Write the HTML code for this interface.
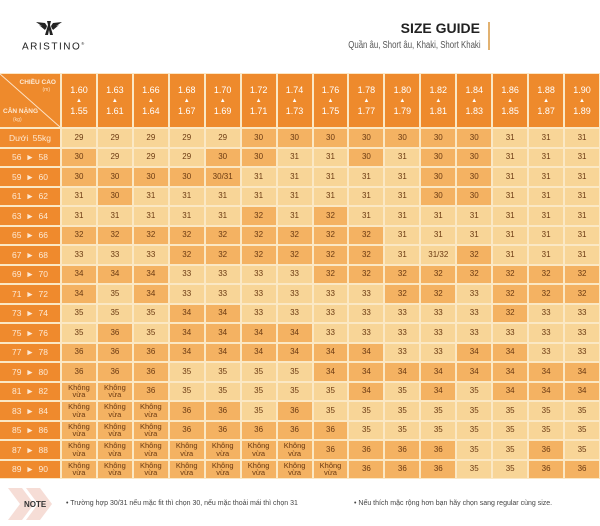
<!DOCTYPE html>
<html><head><meta charset="utf-8"><style>
*{margin:0;padding:0;box-sizing:border-box}
body{width:600px;height:526px;background:#fff;position:relative;overflow:hidden;font-family:"Liberation Sans","Noto Sans CJK SC",sans-serif}
.grid{position:absolute;left:0;top:74px;width:600px;height:405px;display:grid;grid-template-columns:60px repeat(15,1fr);grid-template-rows:53px repeat(18,1fr);gap:2px;background:#fbe8c4;padding:0 1px 1px 0}
.grid div{display:flex;align-items:center;justify-content:center;font-size:8px;color:#6b3a12;text-align:center;line-height:1}
.h{background:#ee8a2c;color:#fff!important;flex-direction:column;font-size:9px!important}
.h span{font-size:6px;margin:3px 0}
.r{background:#ef8a2d;color:#fde9d4!important;font-size:8.5px!important;word-spacing:2px}
.d{background:#f4b262}
.l{background:#f8d597}
.k{font-size:7.5px!important;flex-direction:column}
.corner{background:#ee8a2c;position:relative;display:block!important}
</style></head><body>
<svg style="position:absolute;left:36px;top:20px" width="26" height="16" viewBox="0 0 26 16"><path d="M0 2 L9 3 L11 6 L10 9 Z M26 2 L17 3 L15 6 L16 9 Z M3 5 L10 8 L9 10 Z M23 5 L16 8 L17 10 Z" fill="#222"/><path d="M11 1 L15 1 L14 5 L17 15 L14 15 L13 10 L12 15 L9 15 L12 5 Z" fill="#222"/></svg>
<div style="position:absolute;left:22px;top:41px;font-size:10px;letter-spacing:1.5px;color:#222">ARISTINO<sup style="font-size:4px">®</sup></div>
<div style="position:absolute;right:120px;top:20px;font-size:14px;font-weight:bold;color:#222">SIZE GUIDE</div>
<div style="position:absolute;right:119px;top:40px;font-size:10px;color:#555;transform:scaleX(0.78);transform-origin:right;white-space:nowrap">Quần âu, Short âu, Khaki, Short Khaki</div>
<div style="position:absolute;left:488px;top:22px;width:2px;height:28px;background:#e2b271"></div>
<div style="position:absolute;left:0;top:73px;width:600px;height:1px;background:#fde7c4"></div>
<div class="grid">
<div class="corner"><svg style="position:absolute;left:0;top:0" width="60" height="53"><line x1="0" y1="0" x2="60" y2="53" stroke="#fde4c8" stroke-width="1"/></svg>
<div style="position:absolute;right:4px;top:6px;font-size:6.5px;font-weight:bold;color:#fde9d4;display:block">CHIỀU CAO</div>
<div style="position:absolute;right:10px;top:14px;font-size:5px;color:#fde0c0;display:block">(m)</div>
<div style="position:absolute;left:3px;top:35px;font-size:6.5px;font-weight:bold;color:#fde9d4;display:block">CÂN NẶNG</div>
<div style="position:absolute;left:13px;top:44px;font-size:5px;color:#fde0c0;display:block">(kg)</div></div>
<div class="h">1.60<span>▲</span>1.55</div><div class="h">1.63<span>▲</span>1.61</div><div class="h">1.66<span>▲</span>1.64</div><div class="h">1.68<span>▲</span>1.67</div><div class="h">1.70<span>▲</span>1.69</div><div class="h">1.72<span>▲</span>1.71</div><div class="h">1.74<span>▲</span>1.73</div><div class="h">1.76<span>▲</span>1.75</div><div class="h">1.78<span>▲</span>1.77</div><div class="h">1.80<span>▲</span>1.79</div><div class="h">1.82<span>▲</span>1.81</div><div class="h">1.84<span>▲</span>1.83</div><div class="h">1.86<span>▲</span>1.85</div><div class="h">1.88<span>▲</span>1.87</div><div class="h">1.90<span>▲</span>1.89</div>

<div class="r">Dưới 55kg</div><div class="l">29</div><div class="l">29</div><div class="l">29</div><div class="l">29</div><div class="l">29</div><div class="d">30</div><div class="d">30</div><div class="d">30</div><div class="d">30</div><div class="d">30</div><div class="d">30</div><div class="d">30</div><div class="l">31</div><div class="l">31</div><div class="l">31</div>
<div class="r">56 ► 58</div><div class="d">30</div><div class="l">29</div><div class="l">29</div><div class="l">29</div><div class="d">30</div><div class="d">30</div><div class="l">31</div><div class="l">31</div><div class="d">30</div><div class="l">31</div><div class="d">30</div><div class="d">30</div><div class="l">31</div><div class="l">31</div><div class="l">31</div>
<div class="r">59 ► 60</div><div class="d">30</div><div class="d">30</div><div class="d">30</div><div class="d">30</div><div class="d">30/31</div><div class="l">31</div><div class="l">31</div><div class="l">31</div><div class="l">31</div><div class="l">31</div><div class="d">30</div><div class="d">30</div><div class="l">31</div><div class="l">31</div><div class="l">31</div>
<div class="r">61 ► 62</div><div class="l">31</div><div class="d">30</div><div class="l">31</div><div class="l">31</div><div class="l">31</div><div class="l">31</div><div class="l">31</div><div class="l">31</div><div class="l">31</div><div class="l">31</div><div class="d">30</div><div class="d">30</div><div class="l">31</div><div class="l">31</div><div class="l">31</div>
<div class="r">63 ► 64</div><div class="l">31</div><div class="l">31</div><div class="l">31</div><div class="l">31</div><div class="l">31</div><div class="d">32</div><div class="l">31</div><div class="d">32</div><div class="l">31</div><div class="l">31</div><div class="l">31</div><div class="l">31</div><div class="l">31</div><div class="l">31</div><div class="l">31</div>
<div class="r">65 ► 66</div><div class="d">32</div><div class="d">32</div><div class="d">32</div><div class="d">32</div><div class="d">32</div><div class="d">32</div><div class="d">32</div><div class="d">32</div><div class="d">32</div><div class="l">31</div><div class="l">31</div><div class="l">31</div><div class="l">31</div><div class="l">31</div><div class="l">31</div>
<div class="r">67 ► 68</div><div class="l">33</div><div class="l">33</div><div class="l">33</div><div class="d">32</div><div class="d">32</div><div class="d">32</div><div class="d">32</div><div class="d">32</div><div class="d">32</div><div class="l">31</div><div class="l">31/32</div><div class="d">32</div><div class="l">31</div><div class="l">31</div><div class="l">31</div>
<div class="r">69 ► 70</div><div class="d">34</div><div class="d">34</div><div class="d">34</div><div class="l">33</div><div class="l">33</div><div class="l">33</div><div class="l">33</div><div class="d">32</div><div class="d">32</div><div class="d">32</div><div class="d">32</div><div class="d">32</div><div class="d">32</div><div class="d">32</div><div class="d">32</div>
<div class="r">71 ► 72</div><div class="d">34</div><div class="l">35</div><div class="d">34</div><div class="l">33</div><div class="l">33</div><div class="l">33</div><div class="l">33</div><div class="l">33</div><div class="l">33</div><div class="d">32</div><div class="d">32</div><div class="l">33</div><div class="d">32</div><div class="d">32</div><div class="d">32</div>
<div class="r">73 ► 74</div><div class="l">35</div><div class="l">35</div><div class="l">35</div><div class="d">34</div><div class="d">34</div><div class="l">33</div><div class="l">33</div><div class="l">33</div><div class="l">33</div><div class="l">33</div><div class="l">33</div><div class="l">33</div><div class="d">32</div><div class="l">33</div><div class="l">33</div>
<div class="r">75 ► 76</div><div class="l">35</div><div class="d">36</div><div class="l">35</div><div class="d">34</div><div class="d">34</div><div class="d">34</div><div class="d">34</div><div class="l">33</div><div class="l">33</div><div class="l">33</div><div class="l">33</div><div class="l">33</div><div class="l">33</div><div class="l">33</div><div class="l">33</div>
<div class="r">77 ► 78</div><div class="d">36</div><div class="d">36</div><div class="d">36</div><div class="d">34</div><div class="d">34</div><div class="d">34</div><div class="d">34</div><div class="d">34</div><div class="d">34</div><div class="l">33</div><div class="l">33</div><div class="d">34</div><div class="d">34</div><div class="l">33</div><div class="l">33</div>
<div class="r">79 ► 80</div><div class="d">36</div><div class="d">36</div><div class="d">36</div><div class="l">35</div><div class="l">35</div><div class="l">35</div><div class="l">35</div><div class="d">34</div><div class="d">34</div><div class="d">34</div><div class="d">34</div><div class="d">34</div><div class="d">34</div><div class="d">34</div><div class="d">34</div>
<div class="r">81 ► 82</div><div class="d k">Không<br>vừa</div><div class="d k">Không<br>vừa</div><div class="d">36</div><div class="l">35</div><div class="l">35</div><div class="l">35</div><div class="l">35</div><div class="l">35</div><div class="d">34</div><div class="l">35</div><div class="d">34</div><div class="l">35</div><div class="d">34</div><div class="d">34</div><div class="d">34</div>
<div class="r">83 ► 84</div><div class="d k">Không<br>vừa</div><div class="d k">Không<br>vừa</div><div class="d k">Không<br>vừa</div><div class="d">36</div><div class="d">36</div><div class="l">35</div><div class="d">36</div><div class="l">35</div><div class="l">35</div><div class="l">35</div><div class="l">35</div><div class="l">35</div><div class="l">35</div><div class="l">35</div><div class="l">35</div>
<div class="r">85 ► 86</div><div class="d k">Không<br>vừa</div><div class="d k">Không<br>vừa</div><div class="d k">Không<br>vừa</div><div class="d">36</div><div class="d">36</div><div class="d">36</div><div class="d">36</div><div class="d">36</div><div class="l">35</div><div class="l">35</div><div class="l">35</div><div class="l">35</div><div class="l">35</div><div class="l">35</div><div class="l">35</div>
<div class="r">87 ► 88</div><div class="d k">Không<br>vừa</div><div class="d k">Không<br>vừa</div><div class="d k">Không<br>vừa</div><div class="d k">Không<br>vừa</div><div class="d k">Không<br>vừa</div><div class="d k">Không<br>vừa</div><div class="d k">Không<br>vừa</div><div class="d">36</div><div class="d">36</div><div class="d">36</div><div class="d">36</div><div class="l">35</div><div class="l">35</div><div class="d">36</div><div class="l">35</div>
<div class="r">89 ► 90</div><div class="d k">Không<br>vừa</div><div class="d k">Không<br>vừa</div><div class="d k">Không<br>vừa</div><div class="d k">Không<br>vừa</div><div class="d k">Không<br>vừa</div><div class="d k">Không<br>vừa</div><div class="d k">Không<br>vừa</div><div class="d k">Không<br>vừa</div><div class="d">36</div><div class="d">36</div><div class="d">36</div><div class="l">35</div><div class="l">35</div><div class="d">36</div><div class="d">36</div>
</div>
<svg style="position:absolute;left:8px;top:488px" width="46" height="32"><path d="M0 0 H14 L26 16 L14 32 H0 L12 16 Z M18 0 H32 L44 16 L32 32 H18 L30 16 Z" fill="#f6ddd6"/></svg>
<div style="position:absolute;left:24px;top:500px;font-size:8px;font-weight:bold;color:#333">NOTE</div>
<div style="position:absolute;left:66px;top:500px;font-size:7px;color:#444">• Trường hợp 30/31 nếu mặc fit thì chọn 30, nếu mặc thoải mái thì chọn 31</div>
<div style="position:absolute;left:354px;top:500px;font-size:7px;color:#444">• Nếu thích mặc rộng hơn bạn hãy chọn sang regular cùng size.</div>
</body></html>
